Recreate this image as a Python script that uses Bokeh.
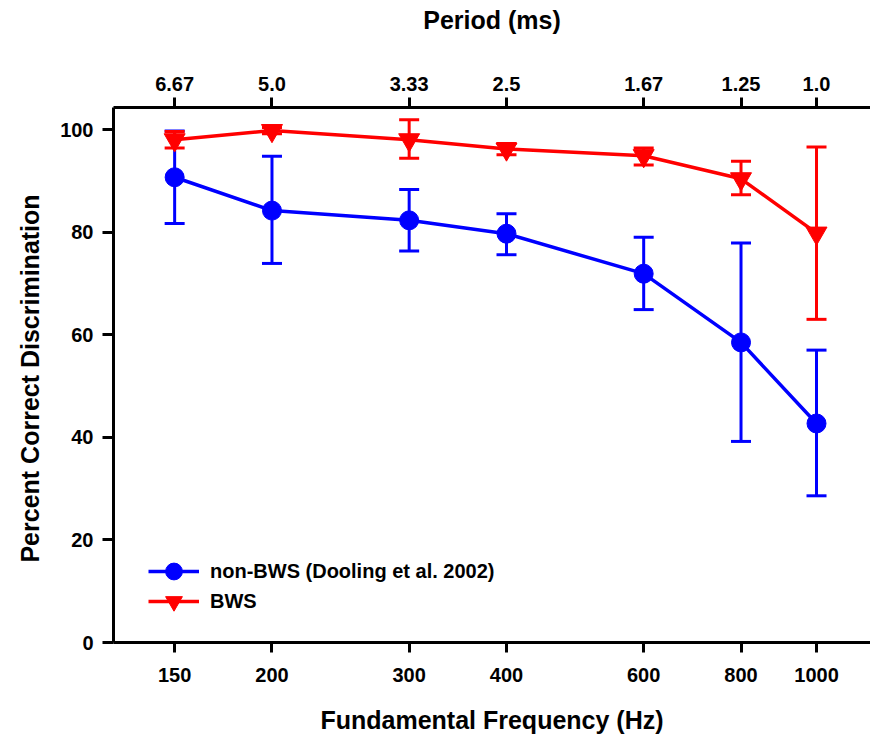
from bokeh.plotting import figure
from bokeh.models import (Range1d, LogAxis, FixedTicker, Legend, LegendItem)
from bokeh.embed import file_html
from bokeh.resources import INLINE

# ---- data ----
freqs = [150, 200, 300, 400, 600, 800, 1000]
freq_labels = ["150", "200", "300", "400", "600", "800", "1000"]
period_labels = ["6.67", "5.0", "3.33", "2.5", "1.67", "1.25", "1.0"]

nonbws_mean = [90.7, 84.2, 82.3, 79.7, 71.9, 58.5, 42.7]
nonbws_upper = [99.7, 94.8, 88.3, 83.6, 79.0, 77.9, 57.0]
nonbws_lower = [81.7, 73.9, 76.3, 75.6, 64.9, 39.2, 28.6]

bws_mean = [98.0, 99.8, 98.0, 96.2, 94.9, 90.4, 79.8]
bws_upper = [99.6, 100.4, 101.9, 97.3, 96.4, 93.8, 96.6]
bws_lower = [96.4, 99.2, 94.4, 95.1, 93.1, 87.3, 63.0]

y_ticks = [0, 20, 40, 60, 80, 100]

FONT = "Liberation Sans"
BLUE = "#0000ff"
RED = "#ff0000"

p = figure(width=870, height=736, x_axis_type="log",
           x_range=Range1d(125.2, 1173), y_range=Range1d(0, 104.3),
           output_backend="svg", toolbar_location=None,
           min_border_left=113, min_border_right=0,
           min_border_top=107, min_border_bottom=93)
p.outline_line_color = None
p.xgrid.visible = False
p.ygrid.visible = False
p.background_fill_color = "white"
p.border_fill_color = "white"

bottom = p.below[0]
top = LogAxis()
p.add_layout(top, "above")


def style_axis(ax):
    ax.axis_line_width = 3
    ax.axis_line_color = "black"
    ax.major_tick_line_width = 3
    ax.major_tick_line_color = "black"
    ax.major_tick_out = 10
    ax.major_tick_in = 0
    ax.minor_tick_line_color = None
    ax.major_label_text_font = FONT
    ax.major_label_text_font_style = "bold"
    ax.major_label_text_font_size = "20px"
    ax.major_label_text_color = "black"
    ax.axis_label_text_font = FONT
    ax.axis_label_text_font_style = "bold"
    ax.axis_label_text_font_size = "25px"
    ax.axis_label_text_color = "black"


for ax in (bottom, top):
    style_axis(ax)
    ax.ticker = FixedTicker(ticks=freqs)
bottom.major_label_overrides = {f: l for f, l in zip(freqs, freq_labels)}
top.major_label_overrides = {f: l for f, l in zip(freqs, period_labels)}
bottom.axis_label = "Fundamental Frequency (Hz)"
top.axis_label = "Period (ms)"
bottom.major_label_standoff = 15
bottom.axis_label_standoff = 21
top.major_label_standoff = 7
top.axis_label_standoff = 40

left = p.left[0]
style_axis(left)
left.ticker = FixedTicker(ticks=y_ticks)
left.major_tick_out = 11
left.major_label_standoff = 9
left.axis_label = "Percent Correct  Discrimination"
left.axis_label_standoff = 13

# ---- non-BWS (blue) ----
p.segment(x0=freqs, y0=nonbws_lower, x1=freqs, y1=nonbws_upper,
          line_color=BLUE, line_width=3)
p.scatter(x=freqs, y=nonbws_upper, marker="dash", size=20,
          line_color=BLUE, line_width=3)
p.scatter(x=freqs, y=nonbws_lower, marker="dash", size=20,
          line_color=BLUE, line_width=3)
b_line = p.line(x=freqs, y=nonbws_mean, line_color=BLUE, line_width=3.5)
b_pts = p.scatter(x=freqs, y=nonbws_mean, marker="circle", size=19,
                  fill_color=BLUE, line_color=BLUE)

# ---- BWS (red) ----
p.segment(x0=freqs, y0=bws_lower, x1=freqs, y1=bws_upper,
          line_color=RED, line_width=3)
p.scatter(x=freqs, y=bws_upper, marker="dash", size=20,
          line_color=RED, line_width=3)
p.scatter(x=freqs, y=bws_lower, marker="dash", size=20,
          line_color=RED, line_width=3)
r_line = p.line(x=freqs, y=bws_mean, line_color=RED, line_width=3.5)
r_pts = p.scatter(x=freqs, y=bws_mean, marker="inverted_triangle", size=21,
                  fill_color=RED, line_color=RED)


def make_legend(label, renderers, loc):
    lg = Legend(items=[LegendItem(label=label, renderers=renderers)],
                location=loc)
    lg.glyph_width = 51
    lg.glyph_height = 42
    lg.label_height = 42
    lg.spacing = 0
    lg.label_standoff = 11
    lg.padding = 0
    lg.margin = 0
    lg.border_line_color = None
    lg.background_fill_alpha = 0
    lg.label_text_font = FONT
    lg.label_text_font_style = "bold"
    lg.label_text_font_size = "20px"
    lg.label_text_color = "black"
    return lg


p.add_layout(make_legend("non-BWS (Dooling et al. 2002)", [b_line, b_pts], (35, 50)), "center")
p.add_layout(make_legend("BWS", [r_line, r_pts], (35, 20)), "center")

open("out.html", "w").write(file_html(p, INLINE))
